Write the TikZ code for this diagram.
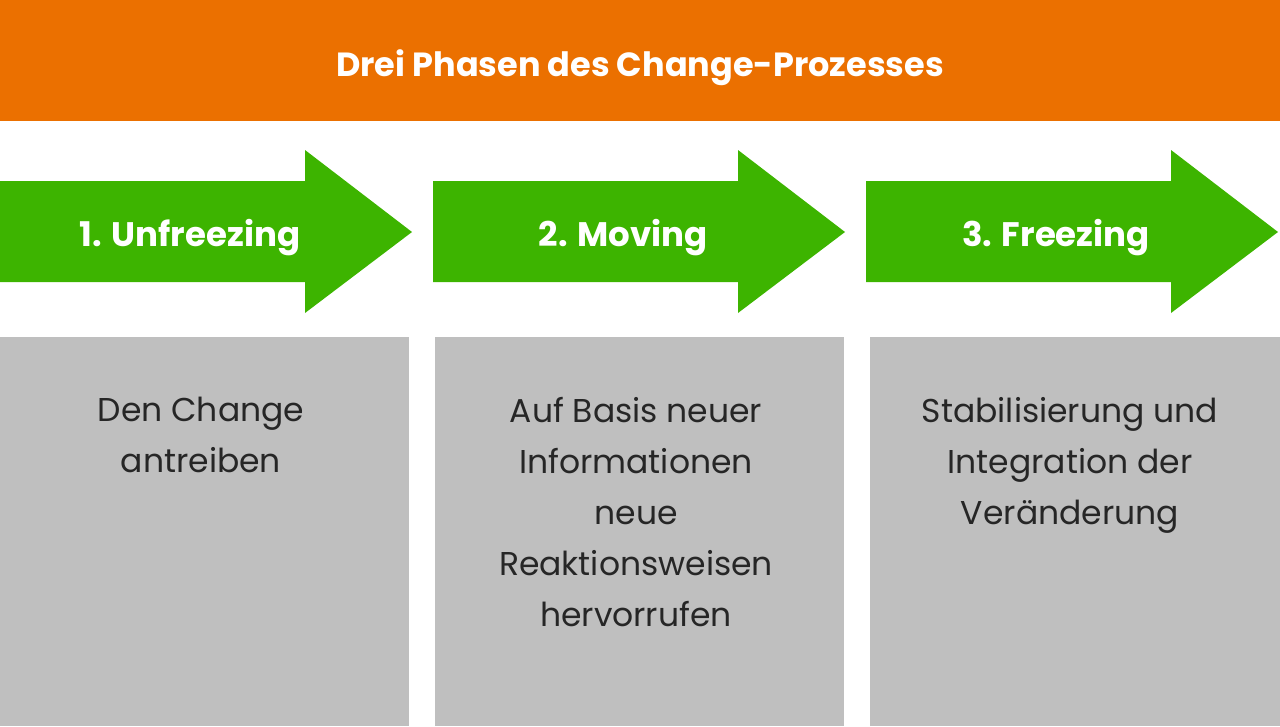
\documentclass[tikz,border=0pt]{standalone}
\usepackage{fontspec}
\setmainfont{Poppins}
\definecolor{org}{HTML}{EB7000}
\definecolor{grn}{HTML}{3DB400}
\definecolor{gry}{HTML}{BFBFBF}
\begin{document}
\begin{tikzpicture}[x=1pt,y=-1pt,
  arr/.style={fill=grn},
  lab/.style={text=white,font=\fontsize{34}{40}\selectfont\bfseries},
  box/.style={fill=gry},
  txt/.style={align=center,anchor=north,font=\fontsize{33}{51}\selectfont,text=black!85}]
\useasboundingbox (0,0) rectangle (1280,726);
\fill[org] (0,0) rectangle (1280,121);
\node[text=white,font=\fontsize{33.5}{40}\selectfont\bfseries] (title) at (640,68) {Drei Phasen des Change-Prozesses};
\foreach \x/\n/\t in {0/a/1. Unfreezing,433/b/2. Moving,866/c/3. Freezing}{
  \fill[arr] (\x,181) -- (\x+305,181) -- (\x+305,150) -- (\x+412,232) -- (\x+305,313) -- (\x+305,282) -- (\x,282) -- cycle;
  \node[lab] (\n) at (\x+190,238) {\t};
}
\fill[box] (0,337) rectangle (409,726);
\fill[box] (435,337) rectangle (844,726);
\fill[box] (870,337) rectangle (1280,726);
\node[txt] (ta) at (201,394) {Den Change\\antreiben};
\node[txt] (tb) at (636,394) {Auf Basis neuer\\Informationen\\neue\\Reaktionsweisen\\hervorrufen};
\node[txt] (tc) at (1070,394) {Stabilisierung und\\Integration der\\Veränderung};
\end{tikzpicture}
\end{document}
